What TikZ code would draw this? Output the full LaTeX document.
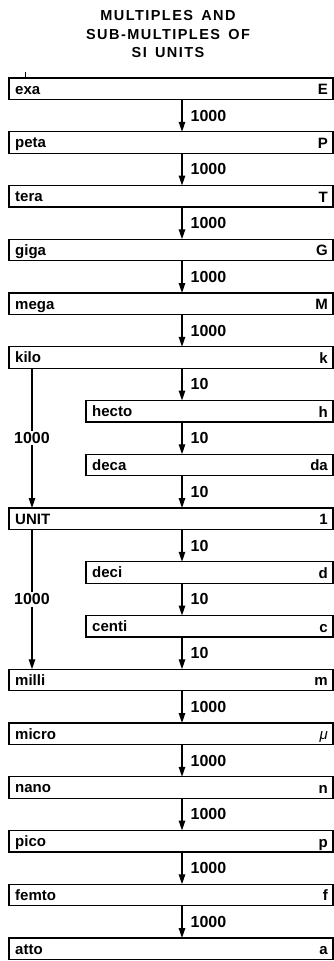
\documentclass[tikz,border=0pt]{standalone}
\usepackage{fontspec}
\setmainfont{Liberation Sans}
\newfontfamily\titlefont[LetterSpace=10, WordSpace=1.5]{Liberation Sans}
\usetikzlibrary{arrows.meta}
\tikzset{
  sibox/.style={draw=black, line width=1.3pt, rectangle, inner sep=0pt, outer sep=0pt, minimum height=21.5pt, anchor=north west},
  lbl/.style={font=\fontsize{15}{18}\selectfont\bfseries, inner sep=0pt},
  num/.style={font=\fontsize{16}{19}\selectfont\bfseries, inner sep=0pt},
  arr/.style={line width=1.3pt, -{Triangle[length=10pt,width=6.5pt]}},
  ttl/.style={font=\titlefont\fontsize{14.5}{18}\selectfont\bfseries, inner sep=0pt, anchor=base}
}
\newcommand\sibox[5]{%
  \node[sibox, minimum width={(333-#3)*1pt}] (#1) at (#3,#2) {};
  \node[lbl, anchor=base west] (#1-l) at ([xshift=6pt,yshift=-16pt]#1.north west) {#4};
  \node[lbl, anchor=base east] (#1-r) at ([xshift=-5pt,yshift=-16.5pt]#1.north east) {#5};
}
\begin{document}
\begin{tikzpicture}[x=1pt,y=-1pt]
\useasboundingbox (0,0) rectangle (334,961);
\fill[white] (0,0) rectangle (334,961);
\node[ttl] (t1) at (168,20.7) {MULTIPLES AND};
\node[ttl] (t2) at (168,39.3) {SUB-MULTIPLES OF};
\node[ttl] (t3) at (168,57.3) {SI UNITS};
\draw[line width=0.6pt] (25,72) -- (25,78);
\coordinate (ax) at (182,0);
\coordinate (lx) at (32,0);
\sibox{exa}{78}{9}{exa}{E}
\sibox{peta}{131.75}{9}{peta}{P}
\sibox{tera}{185.5}{9}{tera}{T}
\sibox{giga}{239.25}{9}{giga}{G}
\sibox{mega}{293}{9}{mega}{M}
\sibox{kilo}{346.75}{9}{kilo}{k}
\sibox{hecto}{400.5}{86}{hecto}{h}
\sibox{deca}{454.25}{86}{deca}{da}
\sibox{unit}{508}{9}{UNIT}{1}
\sibox{deci}{561.75}{86}{deci}{d}
\sibox{centi}{615.5}{86}{centi}{c}
\sibox{milli}{669.25}{9}{milli}{m}
\sibox{micro}{723}{9}{micro}{{\mdseries\itshape μ}}
\sibox{nano}{776.75}{9}{nano}{n}
\sibox{pico}{830.5}{9}{pico}{p}
\sibox{femto}{884.25}{9}{femto}{f}
\sibox{atto}{938}{9}{atto}{a}
\foreach \a/\b/\n in {exa/peta/1000, peta/tera/1000, tera/giga/1000, giga/mega/1000, mega/kilo/1000,
  kilo/hecto/10, hecto/deca/10, deca/unit/10, unit/deci/10, deci/centi/10, centi/milli/10,
  milli/micro/1000, micro/nano/1000, nano/pico/1000, pico/femto/1000, femto/atto/1000}{
  \draw[arr] (\a.south -| ax) -- node[num, anchor=west, xshift=8pt] {\n} (\b.north -| ax);
}
\draw[arr] (kilo.south -| lx) -- node[num, fill=white, inner sep=1.5pt] {1000} (unit.north -| lx);
\draw[arr] (unit.south -| lx) -- node[num, fill=white, inner sep=1.5pt] {1000} (milli.north -| lx);
\end{tikzpicture}
\end{document}
